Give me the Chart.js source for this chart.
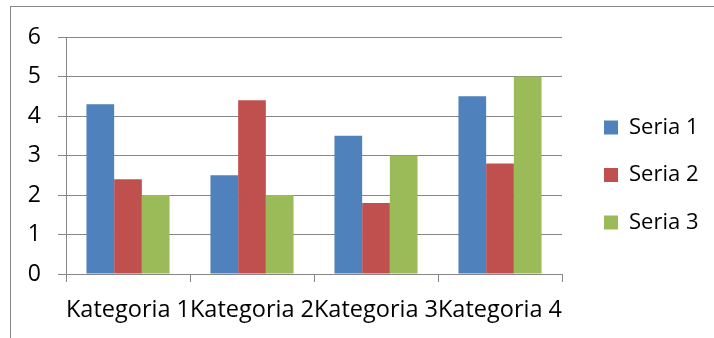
<!DOCTYPE html>
<html>
<head>
<meta charset="utf-8">
<script src="https://cdn.jsdelivr.net/npm/chart.js@4/dist/chart.umd.min.js"></script>
<style>
    html, body { margin: 0; padding: 0; background: #fff; overflow: hidden; }
    #wrap { position: relative; width: 714px; height: 338px; }
    #frame { position: absolute; left: 10px; top: 6px; width: 760px; height: 400px; border: 1px solid #868686; }
    canvas { position: absolute; left: 0; top: 0; }
</style>
</head>
<body>
<div id="wrap">
    <div id="frame"></div>
    <canvas id="myChart" width="714" height="338"></canvas>
</div>
<script>
const categories = ['Kategoria 1', 'Kategoria 2', 'Kategoria 3', 'Kategoria 4']
const seria1 = [4.3, 2.5, 3.5, 4.5]
const seria2 = [2.4, 4.4, 1.8, 2.8]
const seria3 = [2, 2, 3, 5]
const seriesNames = ['Seria 1', 'Seria 2', 'Seria 3']
const yTicks = [0, 1, 2, 3, 4, 5, 6]

const fontFamily = "'Open Sans', 'Noto Sans', sans-serif"
const gridColor = '#868686'
const legendSize = 22
const legendPad = 25.5
const plotRight = 562
const legendGap = 16.5

const drawChart = () =>
{
    Chart.defaults.font.family = fontFamily
    Chart.defaults.color = '#000'

    // legend width as Chart.js computes it, so the plot ends where it should
    let ctx = document.createElement('canvas').getContext('2d')
    ctx.font = `${legendSize}px ${fontFamily}`
    let textW = Math.max(...seriesNames.map(n => ctx.measureText(n).width))
    let legendW = legendPad + 14 + legendSize / 2 + textW + 10
    let padRight = Math.max(0, 714 - plotRight - legendGap - legendW)

    const dataChart = {
        labels: categories,
        datasets: [
            { label: seriesNames[0], data: seria1, backgroundColor: '#4F81BD', xAxisID: 'x', yAxisID: 'y' },
            { label: seriesNames[1], data: seria2, backgroundColor: '#C0504D', xAxisID: 'x', yAxisID: 'y' },
            { label: seriesNames[2], data: seria3, backgroundColor: '#9BBB59', xAxisID: 'x', yAxisID: 'y' }
        ]
    }

    // empty helper axes only push the plot area away from the top and the legend
    const spacer = (position, size) => ({
        type: 'linear',
        position: position,
        display: true,
        grid: { display: false },
        border: { display: false },
        ticks: { display: false },
        afterFit: s => {
            if (position === 'top') s.height = size
            else s.width = size
        }
    })

    const config = {
        type: 'bar',
        data: dataChart,
        options: {
            responsive: false,
            animation: false,
            datasets: {
                bar: { categoryPercentage: 0.67, barPercentage: 1, borderWidth: 0 }
            },
            layout: { padding: { top: 22, bottom: 10, left: 0, right: padRight } },
            plugins: {
                tooltip: { enabled: false },
                legend: {
                    position: 'right',
                    maxWidth: 300,
                    labels: {
                        boxWidth: 14,
                        boxHeight: 14,
                        padding: legendPad,
                        font: { size: legendSize },
                        color: '#000'
                    }
                }
            },
            scales: {
                x: {
                    grid: { drawOnChartArea: false, drawTicks: true, tickLength: 8, color: gridColor },
                    border: { color: gridColor },
                    ticks: { autoSkip: false, maxRotation: 0, minRotation: 0, padding: 14, font: { size: 23.5 } },
                    afterFit: s => { s.height = 54 }
                },
                y: {
                    min: 0,
                    max: 6,
                    afterBuildTicks: s => { s.ticks = yTicks.map(v => ({ value: v })) },
                    grid: { color: gridColor, tickLength: 8 },
                    border: { color: gridColor },
                    ticks: { padding: 17, font: { size: 23 } },
                    afterFit: s => { s.width = 66 }
                },
                gapRight: spacer('right', legendGap),
                gapTop: spacer('top', 15)
            }
        }
    }

    const myChart = new Chart(document.getElementById('myChart'), config)
}

document.fonts.load(`23px 'Open Sans'`).then(drawChart, drawChart)
</script>
</body>
</html>
